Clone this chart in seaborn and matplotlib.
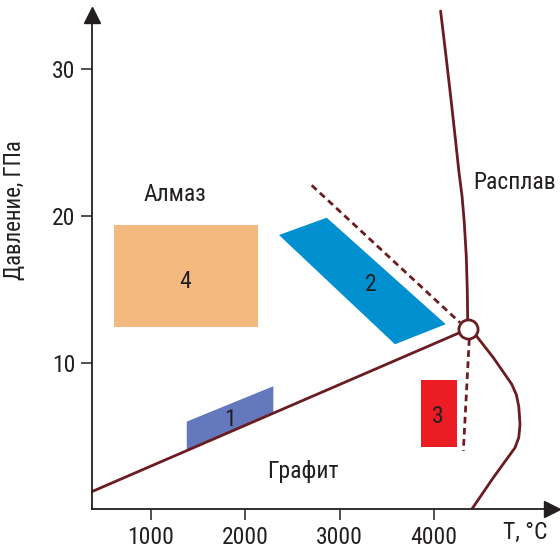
import matplotlib
matplotlib.use("Agg")
import matplotlib.pyplot as plt
import seaborn as sns
import pandas as pd
from matplotlib import font_manager as fm

sns.set_style("ticks")
avail = {f.name for f in fm.fontManager.ttflist}
fam = "Liberation Sans"
for cand in ["Roboto Condensed", "Liberation Sans Narrow", "Open Sans Condensed",
             "DejaVu Sans Condensed", "Noto Sans Condensed"]:
    if cand in avail:
        fam = cand
        break
plt.rcParams["font.family"] = [fam, "DejaVu Sans"]

# ---- data (T in °C, P in GPa) ----
graphite_T = [371, 4358]
graphite_P = [1.2, 12.28]

melt_diamond_T = [4358, 4354, 4343, 4321, 4298, 4264, 4230, 4183, 4128, 4071]
melt_diamond_P = [12.91, 14.89, 17.27, 19.65, 21.36, 23.07, 25.11, 27.84, 30.90, 33.97]

melt_graphite_T = [4436, 4630, 4825, 4875, 4900, 4913, 4900, 4860, 4630, 4401]
melt_graphite_P = [11.94, 10.34, 8.53, 7.8, 7.0, 5.8, 4.9, 4.2, 2.16, 0.0]

dash_upper_T = [2704, 4276]
dash_upper_P = [22.09, 12.73]
dash_lower_T = [4375, 4312]
dash_lower_P = [11.6, 3.98]

triple_T = [4358]
triple_P = [12.28]

region1_T = [1379, 2297, 2297, 1379]
region1_P = [5.98, 8.39, 6.55, 4.0]
region2_T = [2357, 2863, 4125, 3587]
region2_P = [18.7, 19.88, 12.62, 11.25]
region3_T = [3866, 4241, 4241, 3866]
region3_P = [8.8, 8.8, 4.25, 4.25]
region4_T = [610, 2130, 2130, 610]
region4_P = [19.4, 19.4, 12.45, 12.45]

region_labels = ["1", "2", "3", "4"]
region_label_T = [1838, 3333, 4043, 1360]
region_label_P = [6.15, 15.36, 6.35, 15.5]

phase_labels = ["Алмаз", "Расплав", "Графит"]
phase_T = [1254, 4860, 2612]
phase_P = [21.43, 22.25, 2.6]

xticks = [1000, 2000, 3000, 4000]
yticks = [10, 20, 30]

# ---- figure ----
fig = plt.figure(figsize=(5.6, 5.5), dpi=100)
ax = fig.add_axes([91.7 / 560, (550 - 509.3) / 550, 460 / 560, (509.3 - 15) / 550])
ax.set_xlim(371, 5249)
ax.set_ylim(0, 33.7)

line_c = "#6a1c20"
ink = "#231f20"

# regions
ax.fill(region4_T, region4_P, color="#f4b97f", lw=0, zorder=1)
ax.fill(region2_T, region2_P, color="#0090d0", lw=0, zorder=1)
ax.fill(region1_T, region1_P, color="#6378bd", lw=0, zorder=1)
ax.fill(region3_T, region3_P, color="#ec1c24", lw=0, zorder=1)

for lab, t, p in zip(region_labels, region_label_T, region_label_P):
    ax.text(t, p, lab, ha="center", va="center", fontsize=17, color=ink, zorder=3)

# lines
def draw(T, P, **kw):
    df = pd.DataFrame({"T": T, "P": P})
    sns.lineplot(data=df, x="T", y="P", sort=False, estimator=None, ax=ax,
                 color=line_c, lw=2.0, zorder=2, solid_joinstyle="round", **kw)

draw(graphite_T, graphite_P)
draw(melt_diamond_T, melt_diamond_P, clip_on=False)
draw(melt_graphite_T, melt_graphite_P)
draw(dash_upper_T, dash_upper_P, linestyle=(0, (2.4, 1.6)))
draw(dash_lower_T, dash_lower_P, linestyle=(0, (2.4, 1.6)))

sns.scatterplot(x=triple_T, y=triple_P, ax=ax, s=190, facecolor="white",
                edgecolor=line_c, linewidth=2.0, zorder=4, clip_on=False)

for lab, t, p in zip(phase_labels, phase_T, phase_P):
    ax.text(t, p, lab, ha="center", va="center", fontsize=17, color=ink)

# axes styling
for s in ["top", "right"]:
    ax.spines[s].set_visible(False)
for s in ["left", "bottom"]:
    ax.spines[s].set_color(ink)
    ax.spines[s].set_linewidth(1.3)
ax.set_xticks(xticks)
ax.set_yticks(yticks)
ax.tick_params(axis="both", direction="out", length=8, width=1.1, color=ink,
               labelsize=17, labelcolor=ink, pad=4)
ax.set_xlabel("")
ax.set_ylabel("Давление, ГПа", fontsize=16.5, color=ink)
ax.yaxis.set_label_coords(-(91.7 - 26) / 460, (509.3 - 210) / 494.3)

ax.text(1.0 - (551.7 - 525) / 460, -(532 - 509.3) / 494.3, "T, °C", transform=ax.transAxes,
        ha="center", va="center", fontsize=17, color=ink)

# arrows on axes
ax.plot(1, 0, marker=">", color=ink, markersize=11, transform=ax.transAxes, clip_on=False)
ax.plot(0, 1, marker="^", color=ink, markersize=11, transform=ax.transAxes, clip_on=False)

fig.savefig("out.png", dpi=100)
